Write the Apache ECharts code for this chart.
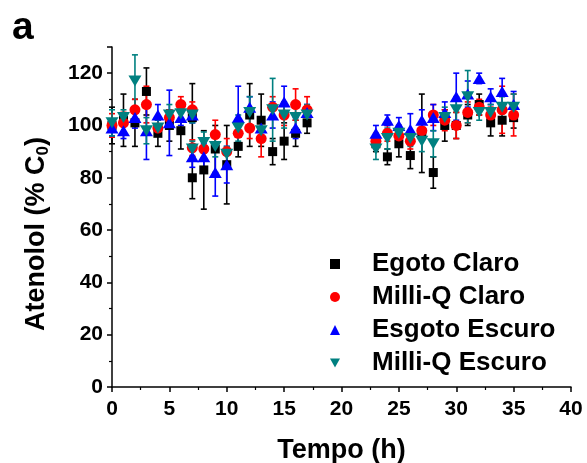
<!DOCTYPE html>
<html>
<head>
<meta charset="utf-8">
<script src="https://cdn.jsdelivr.net/npm/echarts@6/dist/echarts.min.js"></script>
<style>
html,body{margin:0;padding:0;background:#fff;}
#chart{width:587px;height:463px;}
</style>
</head>
<body>
<div id="chart"></div>
<script>
// ---- data ----
const times = [0,1,2,3,4,5,6,7,7,8,9,10,11,12,13,14,15,16,17,23,24,25,26,27,28,29,30,31,32,33,34,35];

const egotoClaro      = [100,102,101,113,97,100,98,103,80,83,91,85,92,104,102,90,94,97,101, 93,88,93,88.5,97,82,100,100,104,108,101,102,103];
const egotoClaroErr   = [7,10,9,9,5,6,7,13,8,15,9,15,4,12,10,5,7,5,4, 3,3,5,5,15,6,6,5,4,4,5,6,4];

const milliQClaro     = [100,101,106,108,99,103,108,106,91.5,91,96.5,90,97,99,95,107,104,108,106, 94,97,96,94,98,104,102,100,105,107,104,106,104];
const milliQClaroErr  = [4.5,4,4,7,3,3,3,3,3,4,5.5,5,4,4,7,4,4,6,5, 3,3,4,3,3,4,4,5,4,3,3,9,8];

const esgotoEscuro    = [99,98,103,98,104,101,103,104,88,88,82,85,103,107,99,104,109,99,105, 97,102,100,98.5,102,103,105,111,112,118,111,113,108];
const esgotoEscuroErr = [3,3,4,11,4,12.5,3,3,4,5,9,7,12,4,4,5,6,4,3, 3,2,3,6,4,5,4,9,5,2,3,5,5];

const milliQEscuro    = [101,103,117,98,99,104,104.5,104,91,93.5,92,89,99,105,98,106,104,103,104, 91,95,97,95,94,93,103,106,111,105,105,107,107];
const milliQEscuroErr = [5,3,10,5,3,4,3,3,3,4,4,3,5,6,4,12,5,4,4, 4,4,3,3,4,5,4,5,10,3,3,4,5];

const seriesNames = ['Egoto Claro','Milli-Q Claro','Esgoto Escuro','Milli-Q Escuro'];
const xTickLabels = ['0','5','10','15','20','25','30','35','40'];
const yTickLabels = ['0','20','40','60','80','100','120'];

// ---- chart ----
const FONT = '"Liberation Sans", Arial, sans-serif';
const downTri = 'path://M0,0 L10,0 L5,9 Z';
const defs = [
  {name: seriesNames[0], vals: egotoClaro,   errs: egotoClaroErr,   color:'#000000', symbol:'rect',     size:9},
  {name: seriesNames[1], vals: milliQClaro,  errs: milliQClaroErr,  color:'#ff0000', symbol:'circle',   size:11},
  {name: seriesNames[2], vals: esgotoEscuro, errs: esgotoEscuroErr, color:'#0000ff', symbol:'triangle', size:[13,11]},
  {name: seriesNames[3], vals: milliQEscuro, errs: milliQEscuroErr, color:'#008080', symbol:downTri,    size:[13,11]}
];

function makeErr(color){
  return function(params, api){
    const x = api.value(0), lo = api.value(1), hi = api.value(2);
    const p1 = api.coord([x, hi]);
    const p2 = api.coord([x, lo]);
    const w = 3;
    const st = {stroke: color, lineWidth: 1.6, fill: null};
    return {type:'group', children:[
      {type:'line', shape:{x1:p1[0], y1:p1[1], x2:p2[0], y2:p2[1]}, style:st},
      {type:'line', shape:{x1:p1[0]-w, y1:p1[1], x2:p1[0]+w, y2:p1[1]}, style:st},
      {type:'line', shape:{x1:p2[0]-w, y1:p2[1], x2:p2[0]+w, y2:p2[1]}, style:st}
    ]};
  };
}

const series = [];
defs.forEach(d => {
  series.push({
    type:'custom', name: d.name + ' err', silent:true, clip:false,
    renderItem: makeErr(d.color),
    data: times.map((t,i) => [t, d.vals[i]-d.errs[i], d.vals[i]+d.errs[i]]),
    encode:{x:0, y:[1,2]}, z:2
  });
  series.push({
    type:'scatter', name: d.name, symbol: d.symbol, symbolSize: d.size, clip:false,
    itemStyle:{color: d.color, opacity:1},
    data: times.map((t,i) => [t, d.vals[i]]), z:3
  });
});

const chart = echarts.init(document.getElementById('chart'), null, {renderer:'canvas'});
chart.setOption({
  animation:false,
  backgroundColor:'#fff',
  grid:{left:112, right:16, top:47, bottom:76, containLabel:false, outerBoundsMode:'none'},
  xAxis:{
    type:'value', min:0, max:40, interval:5,
    name:'Tempo (h)', nameLocation:'middle', nameGap:50,
    nameTextStyle:{fontFamily:FONT, fontWeight:'bold', fontSize:27, color:'#000'},
    axisLine:{show:true, onZero:false, lineStyle:{color:'#000', width:1.5}},
    axisTick:{show:true, length:5, lineStyle:{color:'#000', width:1.5}},
    minorTick:{show:true, splitNumber:2, length:3, lineStyle:{color:'#000', width:1.2}},
    splitLine:{show:false},
    axisLabel:{fontFamily:FONT, fontWeight:'bold', fontSize:21, color:'#000', margin:12,
      formatter: v => xTickLabels[Math.round(v/5)] ?? ''}
  },
  yAxis:{
    type:'value', min:0, max:130, interval:20,
    name:'{a|Atenolol (% C}{s|0}{a|)}', nameLocation:'middle', nameGap:60, nameRotate:90,
    nameTextStyle:{padding:[0,34,0,0], rich:{
      a:{fontFamily:FONT, fontWeight:'bold', fontSize:27, color:'#000'},
      s:{fontFamily:FONT, fontWeight:'bold', fontSize:17, color:'#000', padding:[13,0,0,0]}
    }},
    axisLine:{show:true, onZero:false, lineStyle:{color:'#000', width:1.5}},
    axisTick:{show:true, length:5, lineStyle:{color:'#000', width:1.5}},
    minorTick:{show:true, splitNumber:2, length:3, lineStyle:{color:'#000', width:1.2}},
    splitLine:{show:false},
    axisLabel:{fontFamily:FONT, fontWeight:'bold', fontSize:21, color:'#000', margin:9,
      formatter: v => (v % 20 === 0 && v <= 120) ? yTickLabels[v/20] : ''}
  },
  legend:{
    orient:'vertical', left:325, top:246, itemWidth:10, itemHeight:10, itemGap:7,
    data:[
      {name:seriesNames[0], icon:'rect'},
      {name:seriesNames[1], icon:'circle'},
      {name:seriesNames[2], icon:'triangle'},
      {name:seriesNames[3], icon:downTri}
    ],
    textStyle:{fontFamily:FONT, fontWeight:'bold', fontSize:26, color:'#000', lineHeight:26, padding:[0,0,0,27]}
  },
  graphic:[{type:'text', left:12, top:9, style:{text:'a', fontFamily:FONT, fontWeight:'bold', fontSize:39, fill:'#000'}}],
  series: series
});
</script>
</body>
</html>
